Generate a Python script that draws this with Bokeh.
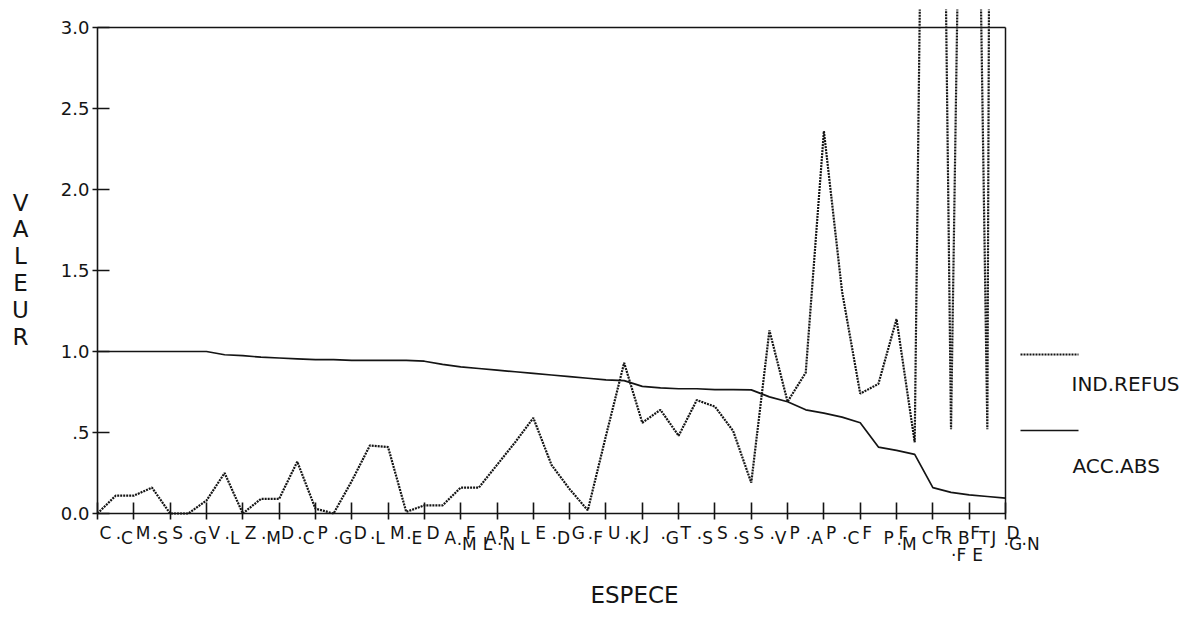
from bokeh.plotting import figure
from bokeh.models import (ColumnDataSource, LabelSet, FixedTicker, Arrow, Range1d)
from bokeh.core.properties import value
from bokeh.embed import file_html
from bokeh.resources import INLINE

# ---- data -------------------------------------------------------------
species = list(range(51))  # species rank along the x axis

ind_refus = [0.00, 0.11, 0.11, 0.16, 0.00, 0.00, 0.08, 0.25, 0.00, 0.09,
             0.09, 0.32, 0.03, 0.00, 0.20, 0.42, 0.41, 0.01, 0.05, 0.05,
             0.16, 0.16, 0.30, 0.44, 0.59, 0.30, 0.15, 0.02, 0.48, 0.93,
             0.56, 0.64, 0.48, 0.70, 0.66, 0.51, 0.19, 1.13, 0.69, 0.87,
             2.36, 1.37, 0.74, 0.80, 1.20, 0.44, 10.0, 0.52, 8.0, 0.52, 30.0]

acc_abs = [1.00, 1.00, 1.00, 1.00, 1.00, 1.00, 1.00, 0.98, 0.975, 0.965,
           0.96, 0.955, 0.95, 0.95, 0.945, 0.945, 0.945, 0.945, 0.94, 0.92,
           0.905, 0.895, 0.885, 0.875, 0.865, 0.855, 0.845, 0.835, 0.825, 0.82,
           0.785, 0.775, 0.77, 0.77, 0.765, 0.765, 0.763, 0.72, 0.69, 0.64,
           0.62, 0.595, 0.56, 0.41, 0.39, 0.365, 0.16, 0.13, 0.115, 0.105, 0.095]

series_names = ["IND.REFUS", "ACC.ABS"]

# species codes printed under the axis (one entry per species)
species_codes = ["C", "·C", "M", "·S", "S", "·G", "V", "·L", "Z", "·M",
                 "D", "·C", "P", "·G", "D", "·L", "M", "·E", "D", "A",
                 ("F", "·M"), ("A", "L"), ("P", "·N"), "L", "E", "·D", "G", "·F", "U", "·K",
                 "J", "·G", "T", "·S", "S", "·S", "S", "·V", "P", "·A",
                 "P", "·C", "F", "P", ("F", "·M"), "C", ("F", "R"), ("B", "·F"),
                 ("F", "T", "E"), "J", ("D", "·G", "·N")]

y_ticks = [0.0, 0.5, 1.0, 1.5, 2.0, 2.5, 3.0]
y_tick_text = ["0.0", ".5", "1.0", "1.5", "2.0", "2.5", "3.0"]

x_title = "ESPECE"
y_title = "VALEUR"

# ---- layout of the code labels (row index and pixel nudge) -------------
ROW_DROP = [25, 30, 36, 47]          # baseline distance below the axis, px
piece_rows = {20: (0, 2), 21: (1, 2), 22: (0, 2), 44: (0, 2), 46: (0, 1),
              47: (1, 3), 48: (0, 1, 3), 50: (0, 2, 2)}
piece_nudge = {20: (3, -4), 21: (4, 2), 23: (3,), 43: (3,), 45: (5,),
               46: (0, 6), 47: (5, 0), 48: (-1, 8, 1), 49: (2,), 50: (-1, -2, 16)}

# ---- geometry -----------------------------------------------------------
# The drawing area fills the page below a thin top margin; the axes sit at
# x = 0 and y = 0 so the titles, codes and key can live inside it.
W, H = 1195, 626
AX_L, AX_R, AX_B = 97, 1005, 513   # pixel columns/rows of x=0, x=50, y=0
TOP3 = 27                          # pixel row of y = 3.0
CLIP_TOP = 9                       # curves may run a little above the box
X0, X1, YMAX = 0, 50, 3.0


def px_x(px):
    return X0 + (px - AX_L) / (AX_R - AX_L) * (X1 - X0)


def px_y(py):
    return (AX_B - py) / (AX_B - TOP3) * YMAX


INK = "#141414"
FONT = "DejaVu Sans"
DOTS = "2 1"


def add_texts(plot, xs, ys, texts, size, align, xo=0, yo=0):
    """Place a group of texts (alphabetic baseline) at data positions."""
    n = len(texts)
    xo = xo if isinstance(xo, list) else [xo] * n
    yo = yo if isinstance(yo, list) else [yo] * n
    s = ColumnDataSource(dict(x=xs, y=ys, text=texts, xo=xo, yo=yo))
    plot.add_layout(LabelSet(x="x", y="y", text="text", x_offset="xo", y_offset="yo",
                             source=s, text_font=value(FONT), text_font_size=size,
                             text_color=INK, text_align=align,
                             text_baseline="alphabetic"))


p = figure(width=W, height=H, output_backend="svg", toolbar_location=None,
           x_range=Range1d(px_x(0), px_x(W)), y_range=Range1d(px_y(H), px_y(CLIP_TOP)),
           min_border=0, min_border_left=0, min_border_right=0,
           min_border_top=CLIP_TOP, min_border_bottom=0)
p.xgrid.visible = False
p.ygrid.visible = False
p.background_fill_color = "white"
p.border_fill_color = "white"
p.outline_line_color = None

xa = p.xaxis[0]
xa.fixed_location = 0
xa.bounds = (X0, X1)
xa.ticker = FixedTicker(ticks=species[::2])
xa.major_label_text_color = None
xa.major_tick_in = 11
xa.major_tick_out = 6
xa.minor_tick_line_color = None
xa.axis_line_color = INK
xa.axis_line_width = 1.6
xa.major_tick_line_color = INK
xa.major_tick_line_width = 1.6

ya = p.yaxis[0]
ya.fixed_location = 0
ya.bounds = (0, YMAX)
ya.ticker = FixedTicker(ticks=y_ticks)
ya.major_label_overrides = {(int(t) if float(t).is_integer() else t): s
                            for t, s in zip(y_ticks, y_tick_text)}
ya.major_tick_in = 12
ya.major_tick_out = 5
ya.minor_tick_line_color = None
ya.axis_line_color = INK
ya.axis_line_width = 1.6
ya.major_tick_line_color = INK
ya.major_tick_line_width = 1.6
ya.major_label_standoff = 3
ya.major_label_text_font = FONT
ya.major_label_text_font_size = "18px"
ya.major_label_text_color = INK

# top and right border of the plotting box
for xs, ys, xe, ye in [(X0, YMAX, X1, YMAX), (X1, 0, X1, YMAX)]:
    p.add_layout(Arrow(end=None, x_start=xs, y_start=ys, x_end=xe, y_end=ye,
                       line_color=INK, line_width=1.5))

src = ColumnDataSource(dict(x=species, refus=ind_refus, acc=acc_abs))
p.line("x", "refus", source=src, line_color=INK, line_width=2.2, line_dash=DOTS)
p.line("x", "acc", source=src, line_color=INK, line_width=1.7)

# species codes under the x axis
lx, lt, lxo, lyo = [], [], [], []
for i, code in enumerate(species_codes):
    parts = code if isinstance(code, tuple) else (code,)
    rows = piece_rows.get(i, (i % 2,) * len(parts))
    nudges = piece_nudge.get(i, (0,) * len(parts))
    for part, row, nd in zip(parts, rows, nudges):
        lx.append(species[i])
        lt.append(part)
        lxo.append((0 if part.startswith("·") else 2) + nd)
        lyo.append(-ROW_DROP[row])
add_texts(p, lx, [0] * len(lx), lt, "17px", "left", lxo, lyo)

# axis titles
add_texts(p, [px_x(634)], [px_y(602)], [x_title], "23px", "center")
add_texts(p, [px_x(20)] * len(y_title),
          [px_y(210 + 26.8 * k) for k in range(len(y_title))],
          list(y_title), "23px", "center")

# key: line sample above each series name
legend_spec = [(series_names[0], 354, 390, DOTS, 2.2),
               (series_names[1], 430, 472, "solid", 1.7)]
for name, line_py, text_py, dash, lw in legend_spec:
    p.add_layout(Arrow(end=None, x_start=px_x(1020), y_start=px_y(line_py),
                       x_end=px_x(1078), y_end=px_y(line_py),
                       line_color=INK, line_width=lw, line_dash=dash))
add_texts(p, [px_x(1071), px_x(1072)], [px_y(390), px_y(472)],
          series_names, "20px", "left")

open("out.html", "w").write(file_html(p, INLINE))
